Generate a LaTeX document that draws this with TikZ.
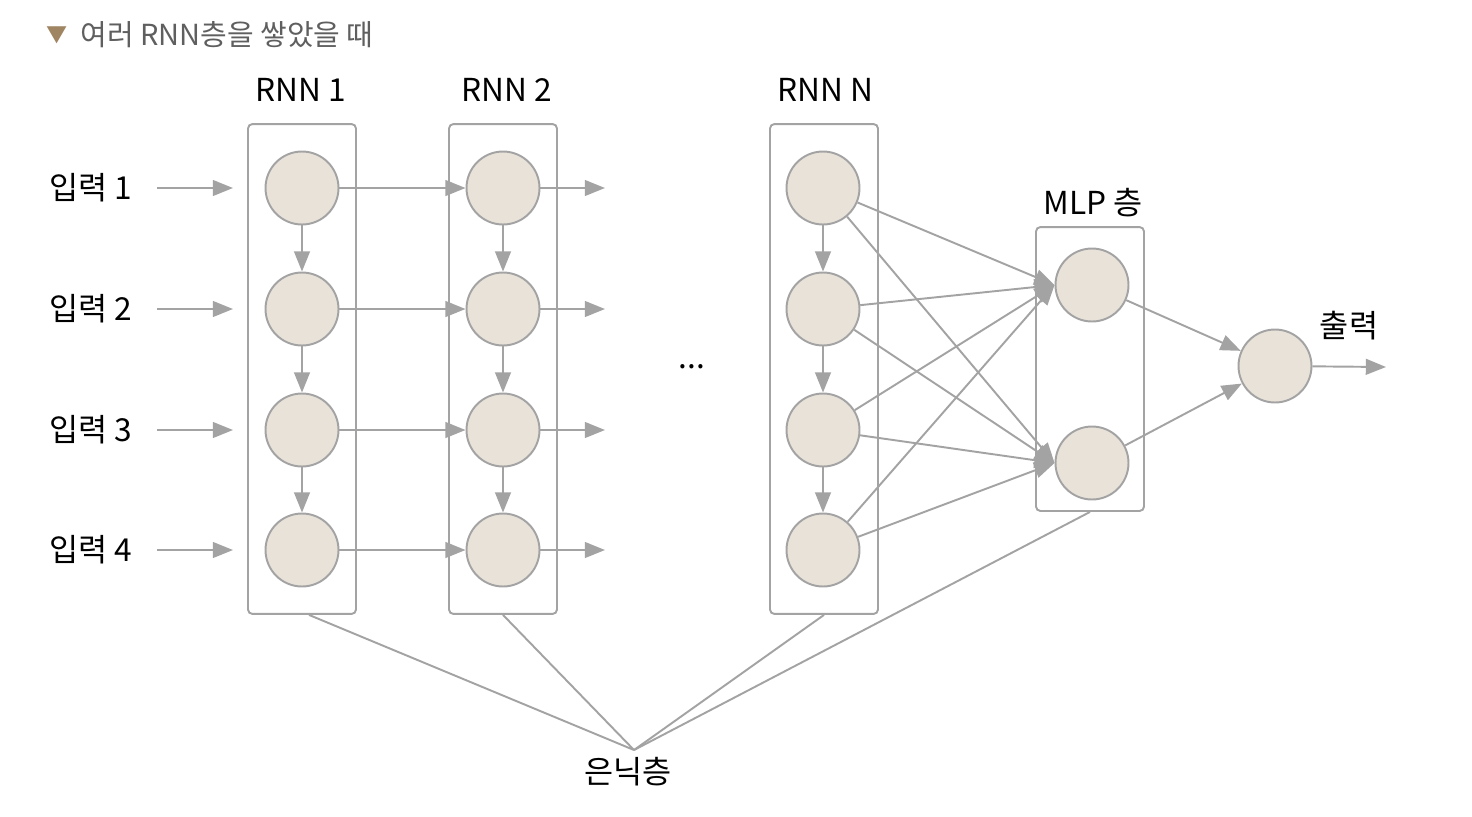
\documentclass[tikz,border=0pt]{standalone}
\usepackage{fontspec}
\setmainfont{Noto Sans CJK KR}
\usetikzlibrary{arrows.meta}
\definecolor{linegray}{HTML}{A3A3A3}
\definecolor{cellfill}{HTML}{E8E2D9}
\definecolor{titlegray}{HTML}{5F5F5F}
\definecolor{titlebrown}{HTML}{A08563}

\begin{document}
\begin{tikzpicture}[x=0.02cm, y=-0.02cm,
    unit/.style={circle, draw=linegray, fill=cellfill, line width=1.1pt, minimum size=1.46cm, inner sep=0pt},
    layerbox/.style={draw=linegray, rounded corners=2.5pt, line width=1.1pt, minimum width=2.16cm, inner sep=0pt},
    arr/.style={draw=linegray, line width=1.1pt, -{Triangle[length=11.5pt, width=9pt]}},
    link/.style={draw=linegray, line width=1.1pt},
    lbl/.style={font=\fontsize{18}{20}\selectfont, inner sep=0pt}]
    \useasboundingbox (0,0) rectangle (1472,816);

    % title
    \node[anchor=west, inner sep=0pt, text=titlebrown, font=\fontsize{12}{14}\selectfont] (mark) at (46,35) {▼};
    \node[anchor=west, inner sep=0pt, text=titlegray, font=\fontsize{16.5}{18}\selectfont] (title) at (80,35) {여러 RNN층을 쌓았을 때};

    % layer boxes
    \node[layerbox, minimum height=9.8cm] (box1) at (302,369) {};
    \node[layerbox, minimum height=9.8cm] (box2) at (503,369) {};
    \node[layerbox, minimum height=9.8cm] (boxN) at (824,369) {};
    \node[layerbox, minimum height=5.68cm] (boxM) at (1090,369) {};

    \node[lbl] (lab1) at (301,90) {RNN 1};
    \node[lbl] (lab2) at (507,90) {RNN 2};
    \node[lbl] (labN) at (825,90) {RNN N};
    \node[lbl] (labM) at (1093,203) {MLP 층};
    \node[lbl] (dots) at (692,367) {...};

    % RNN cells and inputs
    \foreach \y [count=\i] in {188,309,430,550} {
        \node[unit] (a\i) at (302,\y) {};
        \node[unit] (b\i) at (503,\y) {};
        \node[unit] (n\i) at (823,\y) {};
        \node[lbl] (in\i) at (91,\y) {입력 \i};
        \coordinate (t\i) at (233,\y);
        \coordinate (o\i) at (605,\y);
        \draw[arr] ([xshift=14pt]in\i.east) -- (t\i);
        \draw[arr] (a\i) -- (b\i);
        \draw[arr] (b\i) -- (o\i);
    }
    \foreach \i/\j in {1/2,2/3,3/4} {
        \draw[arr] (a\i) -- (a\j);
        \draw[arr] (b\i) -- (b\j);
        \draw[arr] (n\i) -- (n\j);
    }

    % MLP and output
    \node[unit] (m1) at (1092,285) {};
    \node[unit] (m2) at (1092,463) {};
    \node[unit] (out) at (1275,366) {};
    \coordinate (end) at (1386,367);
    \node[lbl] (labO) at (1349,326) {출력};

    \foreach \i in {1,...,4} {
        \draw[arr] (n\i) -- (m1.west);
        \draw[arr] (n\i) -- (m2.west);
    }
    \draw[arr] (m1) -- (out);
    \draw[arr] (m2) -- (out);
    \draw[arr] (out) -- (end);

    % hidden layers
    \coordinate (hid) at (634,750);
    \node[lbl] (labH) at (628,772) {은닉층};
    \draw[link] ([xshift=4pt]box1.south) -- (hid);
    \draw[link] (box2.south) -- (hid);
    \draw[link] (boxN.south) -- (hid);
    \draw[link] (boxM.south) -- (hid);
\end{tikzpicture}
\end{document}
